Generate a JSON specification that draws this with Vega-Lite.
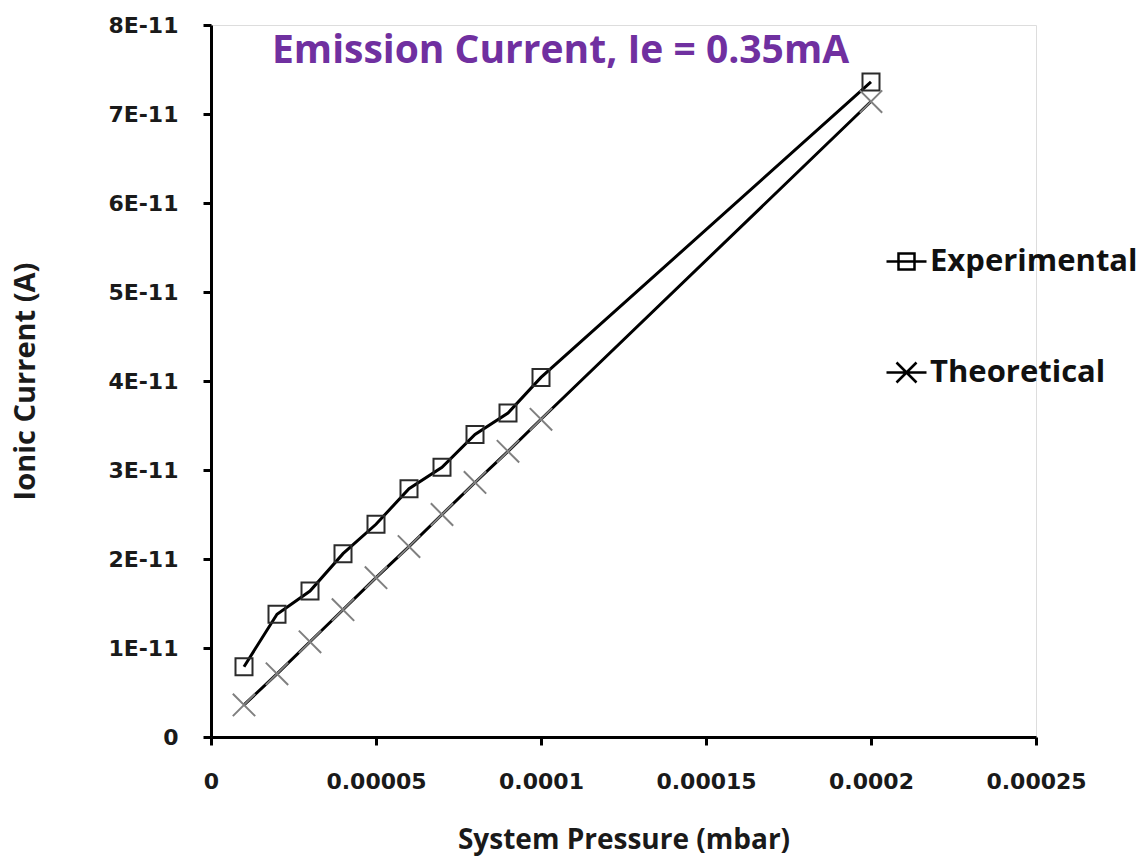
{
  "$schema": "https://vega.github.io/schema/vega-lite/v6.json",
  "width": 825,
  "height": 712,
  "autosize": {"type": "none"},
  "padding": {"left": 211, "top": 25, "right": 106, "bottom": 119},
  "background": "white",
  "title": {
    "text": "Emission Current, Ie = 0.35mA",
    "anchor": "start",
    "frame": "group",
    "dx": 61,
    "dy": 61,
    "font": "Open Sans",
    "fontSize": 39,
    "fontWeight": "bold",
    "color": "#7030A0"
  },
  "data": {
    "values": [
      {"p": 0.00001, "i": 7.9e-12, "series": "Experimental"},
      {"p": 0.00002, "i": 1.38e-11, "series": "Experimental"},
      {"p": 0.00003, "i": 1.64e-11, "series": "Experimental"},
      {"p": 0.00004, "i": 2.06e-11, "series": "Experimental"},
      {"p": 0.00005, "i": 2.39e-11, "series": "Experimental"},
      {"p": 0.00006, "i": 2.79e-11, "series": "Experimental"},
      {"p": 0.00007, "i": 3.03e-11, "series": "Experimental"},
      {"p": 0.00008, "i": 3.40e-11, "series": "Experimental"},
      {"p": 0.00009, "i": 3.64e-11, "series": "Experimental"},
      {"p": 0.0001, "i": 4.04e-11, "series": "Experimental"},
      {"p": 0.0002, "i": 7.36e-11, "series": "Experimental"},
      {"p": 0.00001, "i": 3.6e-12, "series": "Theoretical"},
      {"p": 0.00002, "i": 7.1e-12, "series": "Theoretical"},
      {"p": 0.00003, "i": 1.07e-11, "series": "Theoretical"},
      {"p": 0.00004, "i": 1.43e-11, "series": "Theoretical"},
      {"p": 0.00005, "i": 1.79e-11, "series": "Theoretical"},
      {"p": 0.00006, "i": 2.14e-11, "series": "Theoretical"},
      {"p": 0.00007, "i": 2.50e-11, "series": "Theoretical"},
      {"p": 0.00008, "i": 2.86e-11, "series": "Theoretical"},
      {"p": 0.00009, "i": 3.21e-11, "series": "Theoretical"},
      {"p": 0.0001, "i": 3.57e-11, "series": "Theoretical"},
      {"p": 0.0002, "i": 7.14e-11, "series": "Theoretical"}
    ]
  },
  "encoding": {
    "x": {
      "field": "p",
      "type": "quantitative",
      "scale": {"domain": [0, 0.00025], "nice": false, "zero": true},
      "axis": {
        "title": "System Pressure (mbar)",
        "values": [0, 0.00005, 0.0001, 0.00015, 0.0002, 0.00025],
        "labelExpr": "format(datum.value, '.5~f')",
        "grid": false,
        "domainColor": "#000",
        "domainWidth": 3,
        "tickColor": "#000",
        "tickWidth": 3,
        "tickSize": 8,
        "labelFont": "DejaVu Sans",
        "labelFontWeight": "bold",
        "labelFontSize": 22,
        "labelColor": "#1a1a1a",
        "labelPadding": 26,
        "labelFlush": false,
        "titleFont": "Open Sans",
        "titleFontSize": 28,
        "titleFontWeight": "bold",
        "titleColor": "#1a1a1a",
        "titlePadding": 34
      }
    },
    "y": {
      "field": "i",
      "type": "quantitative",
      "scale": {"domain": [0, 8e-11], "nice": false},
      "axis": {
        "title": "Ionic Current (A)",
        "values": [0, 1e-11, 2e-11, 3e-11, 4e-11, 5e-11, 6e-11, 7e-11, 8e-11],
        "labelExpr": "datum.value == 0 ? '0' : format(round(datum.value * 1e11), 'd') + 'E-11'",
        "grid": false,
        "domainColor": "#000",
        "domainWidth": 3,
        "tickColor": "#000",
        "tickWidth": 3,
        "tickSize": 8,
        "labelFont": "DejaVu Sans",
        "labelFontWeight": "bold",
        "labelFontSize": 22,
        "labelColor": "#1a1a1a",
        "labelPadding": 25,
        "labelFlush": false,
        "titleFont": "Open Sans",
        "titleFontSize": 29,
        "titleFontWeight": "bold",
        "titleColor": "#1a1a1a",
        "titlePadding": 67
      }
    }
  },
  "layer": [
    {
      "mark": {"type": "line", "color": "#000", "strokeWidth": 3},
      "encoding": {"detail": {"field": "series"}}
    },
    {
      "transform": [{"filter": "datum.series === 'Experimental'"}],
      "mark": {"type": "point", "filled": false, "strokeWidth": 2, "opacity": 1, "shape": "square", "size": 289, "color": "#2b2b2b"}
    },
    {
      "transform": [{"filter": "datum.series === 'Theoretical'"}],
      "mark": {"type": "point", "filled": false, "strokeWidth": 2, "opacity": 1, "shape": "M-1,-1L1,1M-1,1L1,-1", "size": 500, "color": "#808080"}
    },
    {
      "transform": [{"filter": "false"}],
      "mark": {"type": "point", "filled": false, "strokeWidth": 2.5, "opacity": 1, "color": "#000"},
      "encoding": {
        "shape": {
          "field": "series",
          "type": "nominal",
          "scale": {
            "domain": ["Experimental", "Theoretical"],
            "range": ["M-1,0H1M-0.4,-0.4H0.4V0.4H-0.4Z", "M-1,0H1M-0.5,-0.5L0.5,0.5M-0.5,0.5L0.5,-0.5"]
          },
          "legend": {
            "orient": "none",
            "legendX": 674,
            "legendY": 215,
            "title": null,
            "labelFont": "Open Sans",
            "labelFontSize": 31,
            "labelFontWeight": "bold",
            "labelColor": "#111",
            "labelOffset": 2,
            "labelLimit": 400,
            "symbolSize": 1600,
            "symbolStrokeWidth": 2.5,
            "symbolStrokeColor": "#000",
            "symbolOpacity": 1,
            "rowPadding": 74
          }
        }
      }
    }
  ]
}
